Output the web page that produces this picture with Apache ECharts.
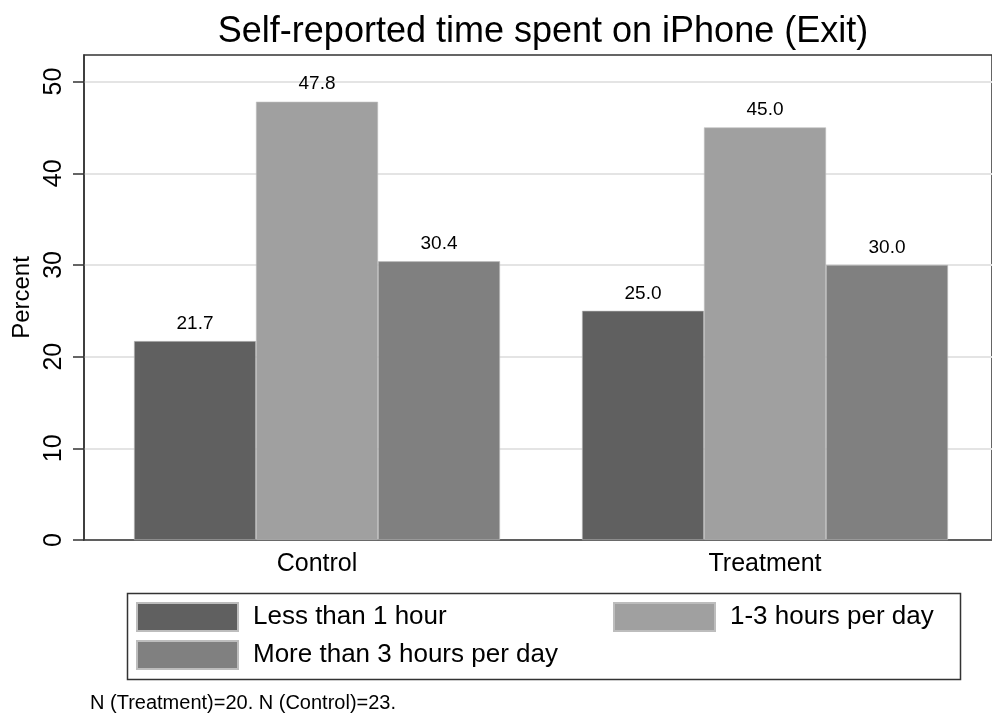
<!DOCTYPE html>
<html><head><meta charset="utf-8">
<script src="https://cdn.jsdelivr.net/npm/echarts@6/dist/echarts.min.js"></script>
<style>html,body{margin:0;padding:0;background:#fff}#c{width:992px;height:713px}</style>
</head><body><div id="c"></div>
<script>
const categories = ['Control', 'Treatment'];
const seriesNames = ['Less than 1 hour', '1-3 hours per day', 'More than 3 hours per day'];
const lessThan1 = [21.7, 25.0];
const oneToThree = [47.8, 45.0];
const moreThan3 = [30.4, 30.0];
const yTicks = [0, 10, 20, 30, 40, 50];
const colors = ['#606060', '#a0a0a0', '#808080'];
const FONT = '"Liberation Sans", Arial, Helvetica, sans-serif';

const chart = echarts.init(document.getElementById('c'), null, {renderer: 'canvas'});
const YMAX = 52.9;
const values = [lessThan1, oneToThree, moreThan3];

chart.setOption({
  animation: false,
  backgroundColor: '#fff',
  textStyle: {fontFamily: FONT},
  title: [
    {text: 'Self-reported time spent on iPhone (Exit)', left: 538, textAlign: 'center', top: 9,
     textStyle: {fontSize: 36, fontWeight: 'normal', color: '#000', fontFamily: FONT}},
    {text: 'N (Treatment)=20. N (Control)=23.', left: 90, top: 693, padding: 0,
     textStyle: {fontSize: 20, fontWeight: 'normal', color: '#000', fontFamily: FONT}}
  ],
  grid: [
    {left: 84, width: 940, top: 55, bottom: 173, show: true, borderColor: '#333', borderWidth: 1.5, backgroundColor: 'transparent'},
    {left: 93, right: 3, top: 55, bottom: 173}
  ],
  xAxis: [
    {type: 'value', gridIndex: 0, min: 0, max: 1,
     axisLine: {show: true, lineStyle: {color: '#333', width: 1.5}},
     axisTick: {show: false}, axisLabel: {show: false}, splitLine: {show: false}},
    {type: 'category', gridIndex: 1, data: categories,
     axisLine: {show: false}, axisTick: {show: false},
     axisLabel: {fontSize: 25, color: '#000', margin: 12, fontFamily: FONT}}
  ],
  yAxis: [
    {type: 'value', gridIndex: 0, min: 0, max: YMAX, interval: 10,
     name: 'Percent', nameLocation: 'middle', nameGap: 50, nameRotate: 90,
     nameTextStyle: {fontSize: 24, color: '#000', fontFamily: FONT},
     axisLine: {show: true, lineStyle: {color: '#333', width: 1.5}},
     axisTick: {show: true, length: 11, customValues: yTicks, lineStyle: {color: '#333', width: 1.5}},
     axisLabel: {rotate: 90, fontSize: 25, color: '#000', margin: 17, customValues: yTicks, fontFamily: FONT},
     splitLine: {show: true, lineStyle: {color: '#e4e4e4', width: 2}}},
    {type: 'value', gridIndex: 1, min: 0, max: YMAX, show: false, splitLine: {show: false}}
  ],
  legend: [
    {orient: 'vertical', left: 136, top: 602, padding: 0, itemWidth: 101, itemHeight: 28, itemGap: 8,
     icon: 'rect', data: [seriesNames[0], seriesNames[2]],
     textStyle: {fontSize: 26, color: '#000', padding: [0, 0, 0, 10], fontFamily: FONT}},
    {orient: 'vertical', left: 613, top: 602, padding: 0, itemWidth: 101, itemHeight: 28, itemGap: 8,
     icon: 'rect', data: [seriesNames[1]],
     textStyle: {fontSize: 26, color: '#000', padding: [0, 0, 0, 10], fontFamily: FONT}}
  ],
  graphic: [
    {type: 'rect', left: 125, top: 591, shape: {width: 833, height: 86},
     style: {fill: 'none', stroke: '#333', lineWidth: 1.5}, silent: true}
  ],
  series: seriesNames.map((name, i) => ({
    name: name, type: 'bar', xAxisIndex: 1, yAxisIndex: 1,
    data: values[i], barWidth: 122, barGap: '0%',
    itemStyle: {color: colors[i], borderColor: '#bdbdbd', borderWidth: 0.6},
    label: {show: true, position: 'top', distance: 8, fontSize: 19, color: '#000', fontFamily: FONT,
            formatter: p => p.value.toFixed(1)}
  }))
});
</script></body></html>
